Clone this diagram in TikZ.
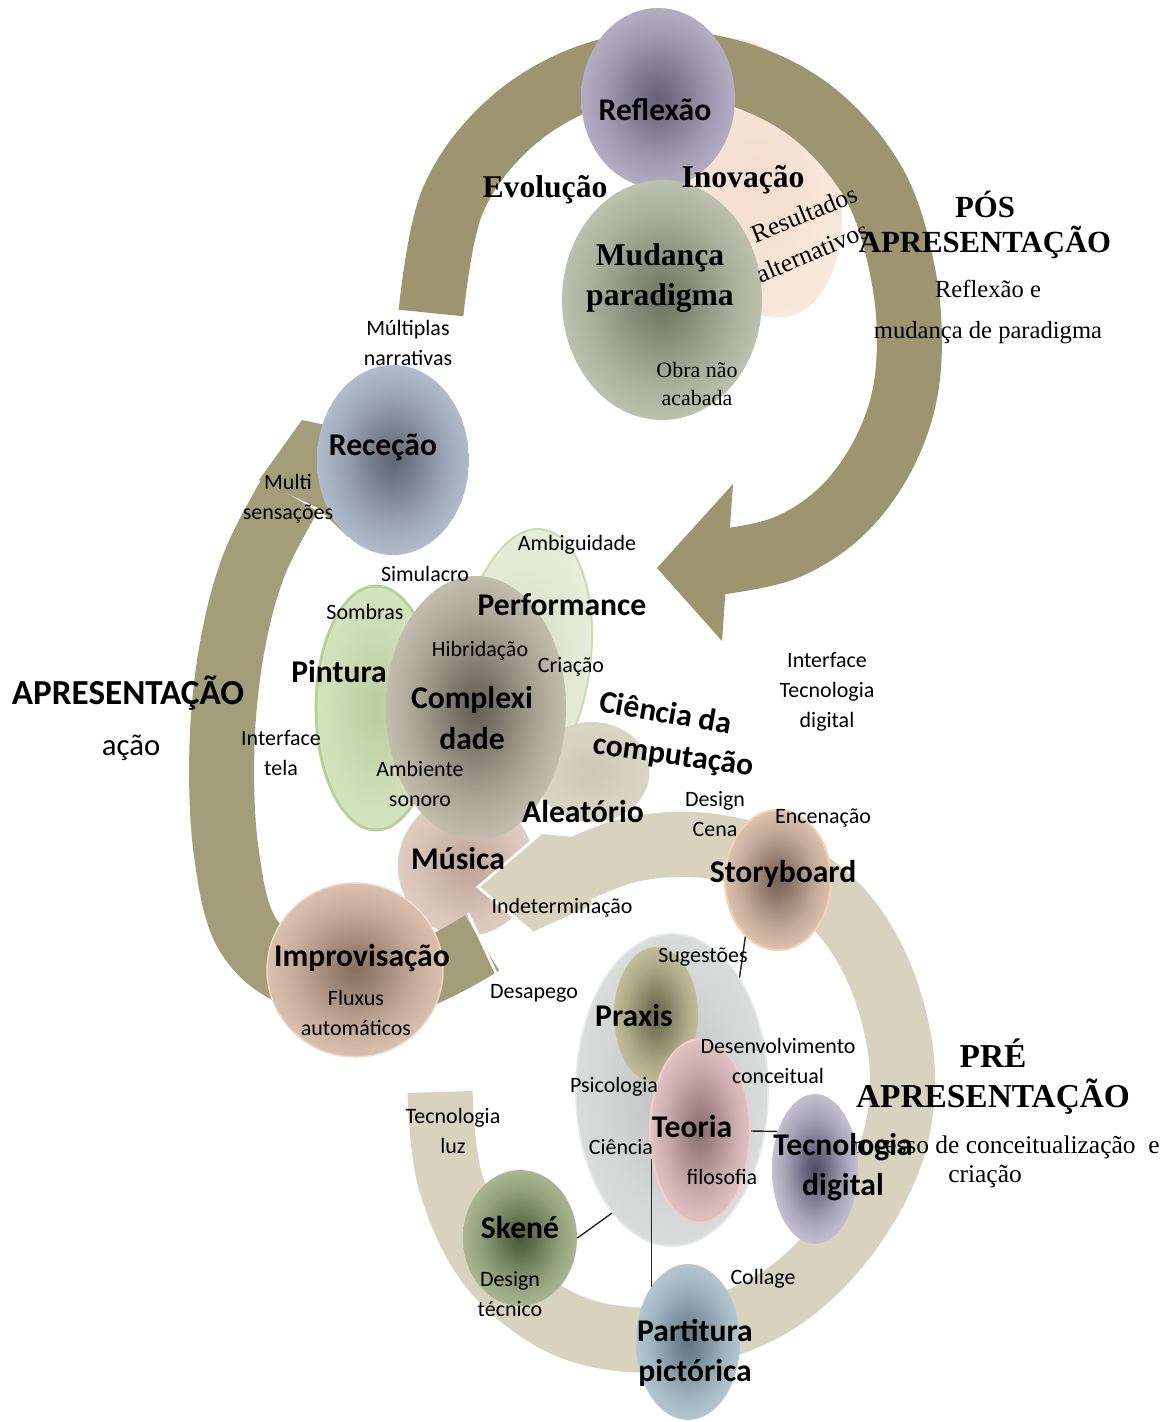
\documentclass[tikz,border=0pt]{standalone}
\usepackage{fontspec}
\setmainfont{Liberation Serif}
\newfontfamily\calib{Carlito}
\usetikzlibrary{shapes.geometric}

\definecolor{posC}{RGB}{157,149,112}
\definecolor{apC}{RGB}{164,157,121}
\definecolor{preC}{RGB}{216,211,190}
\definecolor{inovIn}{RGB}{243,221,206}\definecolor{inovOut}{RGB}{250,235,224}
\definecolor{perfIn}{RGB}{214,220,196}\definecolor{perfOut}{RGB}{236,241,225}\definecolor{perfLine}{RGB}{205,222,182}
\definecolor{pintIn}{RGB}{186,206,158}\definecolor{pintOut}{RGB}{216,231,196}\definecolor{pintLine}{RGB}{180,210,150}
\definecolor{cienIn}{RGB}{205,200,182}\definecolor{cienOut}{RGB}{220,216,200}
\definecolor{musIn}{RGB}{190,165,152}\definecolor{musOut}{RGB}{230,212,202}
\definecolor{complIn}{RGB}{100,96,84}\definecolor{complOut}{RGB}{212,208,192}
\definecolor{receIn}{RGB}{96,104,116}\definecolor{receOut}{RGB}{192,204,220}
\definecolor{improIn}{RGB}{136,112,96}\definecolor{improOut}{RGB}{234,208,190}\definecolor{improLine}{RGB}{240,218,200}
\definecolor{storyIn}{RGB}{120,98,84}\definecolor{storyOut}{RGB}{238,212,192}\definecolor{storyLine}{RGB}{244,208,178}
\definecolor{reflIn}{RGB}{104,98,120}\definecolor{reflOut}{RGB}{194,188,210}
\definecolor{mudIn}{RGB}{112,117,98}\definecolor{mudOut}{RGB}{202,208,189}
\definecolor{greyIn}{RGB}{190,192,192}\definecolor{greyOut}{RGB}{224,226,226}\definecolor{greyLine}{RGB}{230,232,230}
\definecolor{praxIn}{RGB}{104,102,76}\definecolor{praxOut}{RGB}{210,206,168}
\definecolor{teoIn}{RGB}{140,112,112}\definecolor{teoOut}{RGB}{240,210,210}\definecolor{teoLine}{RGB}{242,204,204}
\definecolor{tecnoIn}{RGB}{80,76,102}\definecolor{tecnoOut}{RGB}{218,214,230}
\definecolor{skeneIn}{RGB}{74,90,58}\definecolor{skeneOut}{RGB}{186,201,162}
\definecolor{partiIn}{RGB}{96,118,130}\definecolor{partiOut}{RGB}{196,215,223}
\colorlet{bin}{gray}
\colorlet{bout}{white}
\pgfdeclareradialshading[bin,bout]{glow}{\pgfpoint{0bp}{0bp}}{color(0bp)=(bin);color(5bp)=(bin!85!bout);color(18bp)=(bin!35!bout);color(31bp)=(bout);color(50bp)=(bout)}

\tikzset{
  blob/.style 2 args={ellipse, inner sep=0pt, /utils/exec={\colorlet{bin}{#1}\colorlet{bout}{#2}}, shade, shading=glow},
  lab/.style={font=\calib\fontsize{12.5}{17}\selectfont, align=center, inner sep=0pt},
  big/.style={font=\calib\bfseries\fontsize{18}{23}\selectfont, align=center, inner sep=0pt},
  tbold/.style={font=\bfseries\fontsize{18}{22.7}\selectfont, align=center, inner sep=0pt},
  trm/.style={font=\fontsize{14}{23}\selectfont, align=center, inner sep=0pt},
  link/.style={black!85, line width=0.8pt},
}

\begin{document}
\begin{tikzpicture}[x=0.02cm, y=-0.02cm]
\fill[white] (0,0) rectangle (1165,1422);
\useasboundingbox (0,0) rectangle (1165,1422);

% pos apresentacao
\node[blob={inovIn}{inovOut}, minimum width=3.3cm, minimum height=5.7cm, rotate=14] (inov) at (755,178) {};
\draw[posC, line width=1.3cm, line join=round] plot[smooth, tension=0.6] coordinates {(431,313) (453,200) (516,118) (607,71) (709,67) (804,106) (873,182) (904,279) (908,372) (888,445) (845,508) (785,548) (712,563)};
\fill[posC] (657,568) -- (733,484) -- (722,641) -- cycle;

% pre apresentacao
\draw[preC, line width=1.3cm, line join=round] plot[smooth, tension=0.6] coordinates {(440,1092) (450,1180) (490,1265) (560,1322) (640,1340) (720,1327) (790,1292) (850,1230) (892,1150) (902,1065) (880,975) (835,905) (770,862) (700,845) (630,850) (568,874)};
\node[trm, font=\fontsize{14.5}{23}\selectfont, anchor=east] (tProc) at (1160,1147) {Processo de conceitualização~ e};

% centro
\node[blob={perfIn}{perfOut}, draw=perfLine, line width=1.2pt, minimum width=2.64cm, minimum height=5.36cm, rotate=-8] (perf) at (524,662) {};
\node[blob={pintIn}{pintOut}, draw=pintLine, line width=1.6pt, minimum width=2.4cm, minimum height=4.88cm] (pint) at (376,708) {};
\node[blob={cienIn}{cienOut}, minimum width=2.3cm, minimum height=2cm] (cien) at (592,772) {};
\node[blob={musIn}{musOut}, minimum width=2.72cm, minimum height=2.8cm] (musi) at (466,866) {};
\node[blob={complIn}{complOut}, minimum width=3.6cm, minimum height=5.28cm] (compl) at (476,708) {};
\fill[preC] (478,887) -- (540,834) -- (585,838) -- (592,905) -- (532,932) -- cycle;
\draw[white, line width=1.5pt] (540,834) -- (478,887) -- (532,932);

% apresentacao
\draw[apC, line width=1.3cm, line join=round] plot[smooth, tension=0.6] coordinates {(482,943) (400,982) (305,978) (248,935) (226,850) (222,745) (232,648) (254,565) (290,495)};
\fill[apC] (259,480) -- (302,420) -- (395,440) -- (348,537) -- (318,508) -- cycle;
\draw[white, line width=1.5pt] (468,913) -- (496,973);

\node[blob={receIn}{receOut}, minimum width=3.04cm, minimum height=3.8cm] (rece) at (393,460) {};
\node[blob={improIn}{improOut}, draw=improLine, line width=0.8pt, minimum width=3.52cm, minimum height=3.48cm] (impro) at (355,970) {};
\node[blob={storyIn}{storyOut}, draw=storyLine, line width=1.2pt, minimum width=2.12cm, minimum height=2.8cm] (story) at (778,880) {};

\node[blob={reflIn}{reflOut}, minimum width=3.08cm, minimum height=3.6cm] (refl) at (658,98) {};
\node[blob={mudIn}{mudOut}, minimum width=4cm, minimum height=4.8cm] (mud) at (662,300) {};

% praxis
\node[blob={greyIn}{greyOut}, draw=greyLine, line width=1pt, minimum width=3.84cm, minimum height=6.24cm] (grey) at (672,1090) {};
\node[blob={praxIn}{praxOut}, minimum width=1.68cm, minimum height=2.72cm] (prax) at (656,1015) {};
\node[blob={teoIn}{teoOut}, draw=teoLine, line width=1.2pt, minimum width=2cm, minimum height=3.68cm] (teo) at (700,1131) {};
\node[blob={tecnoIn}{tecnoOut}, minimum width=1.72cm, minimum height=3cm] (tecno) at (815,1169) {};
\node[blob={skeneIn}{skeneOut}, minimum width=2.28cm, minimum height=2.72cm] (skene) at (520,1238) {};
\node[blob={partiIn}{partiOut}, minimum width=2.08cm, minimum height=3.12cm] (parti) at (688,1342) {};

\draw[link] (story.240) -- (grey.59);
\draw[link] (teo.east) -- (tecno.135);
\draw[link] (teo.210) -- (teo.210 |- parti.north west);
\draw[link] (skene.east) -- (grey.244);

% textos
\node[big] (tRefl) at (655,110) {Reflexão};
\node[tbold] (tEvol) at (545,190) {Evolução};
\node[tbold] (tInov) at (743,180) {Inovação};
\node[trm, font=\fontsize{14.5}{17}\selectfont, rotate=22] (tRes) at (804,214) {Resultados};
\node[trm, font=\fontsize{14.5}{17}\selectfont, rotate=23] (tAlt) at (812,252) {alternativos};
\node[tbold] (tMud) at (660,278) {Mudança\\paradigma};
\node[trm, font=\fontsize{12.5}{16}\selectfont] (tObra) at (697,384) {Obra não\\acabada};
\node[tbold, font=\bfseries\fontsize{17.5}{20}\selectfont] (tPos) at (985,225) {PÓS\\APRESENTAÇÃO};
\node[trm] (tPosSub) at (988,312) {Reflexão e\\mudança de paradigma};

\node[lab] (tMult) at (408,343) {Múltiplas\\narrativas};
\node[big] (tRece) at (383,447) {Receção};
\node[lab] (tMulti) at (288,499) {Multi\\sensações};
\node[lab] (tAmbig) at (577,545) {Ambiguidade};
\node[lab] (tSimu) at (425,574) {Simulacro};
\node[lab] (tSomb) at (365,612) {Sombras};
\node[big] (tPerf) at (562,605) {Performance};
\node[lab] (tHibr) at (480,651) {Hibridação};
\node[lab] (tCria) at (571,667) {Criação};
\node[big] (tPint) at (339,672) {Pintura};
\node[big] (tCompl) at (472,718) {Complexi\\dade};
\node[font=\calib\bfseries\fontsize{20}{24}\selectfont, inner sep=0pt] (tApres) at (128,693) {APRESENTAÇÃO};
\node[font=\calib\fontsize{17.5}{20}\selectfont, inner sep=0pt] (tAcao) at (131,748) {ação};
\node[lab] (tIntTela) at (281,753) {Interface\\tela};
\node[lab] (tAmbSon) at (420,784) {Ambiente\\sonoro};
\node[big, rotate=-10] (tCien1) at (666,712) {Ciência da};
\node[big, rotate=-8] (tCien2) at (673,757) {computação};
\node[lab] (tIntTec) at (827,692) {Interface\\Tecnologia\\digital};
\node[big] (tAlea) at (583,812) {Aleatório};
\node[lab] (tDesCena) at (715,814) {Design\\Cena};
\node[lab] (tEnc) at (823,818) {Encenação};
\node[big] (tMus) at (458,859) {Música};
\node[big] (tStory) at (783,874) {Storyboard};
\node[lab] (tIndet) at (562,908) {Indeterminação};
\node[big] (tImpro) at (362,958) {Improvisação};
\node[lab] (tFlux) at (356,1013) {Fluxus\\automáticos};
\node[lab] (tDesap) at (534,993) {Desapego};

\node[lab] (tSuges) at (703,957) {Sugestões};
\node[big] (tPrax) at (634,1016) {Praxis};
\node[lab] (tDesenv) at (778,1061) {Desenvolvimento\\conceitual};
\node[lab] (tPsico) at (614,1087) {Psicologia};
\node[tbold, font=\bfseries\fontsize{19}{22.7}\selectfont] (tPre) at (993,1077) {PRÉ\\APRESENTAÇÃO};
\node[trm, font=\fontsize{14.5}{17}\selectfont] (tCriac) at (985,1177) {criação};
\node[big] (tTeo) at (692,1127) {Teoria};
\node[lab] (tCienc) at (621,1147) {Ciência};
\node[lab] (tFilo) at (722,1177) {filosofia};
\node[big] (tTecno) at (843,1167) {Tecnologia\\digital};
\node[lab] (tTecLuz) at (453,1131) {Tecnologia\\luz};
\node[big] (tSkene) at (520,1228) {Skené};
\node[lab] (tDesTec) at (510,1294) {Design\\técnico};
\node[lab] (tColl) at (763,1279) {Collage};
\node[big] (tParti) at (695,1353) {Partitura\\pictórica};
\end{tikzpicture}
\end{document}
